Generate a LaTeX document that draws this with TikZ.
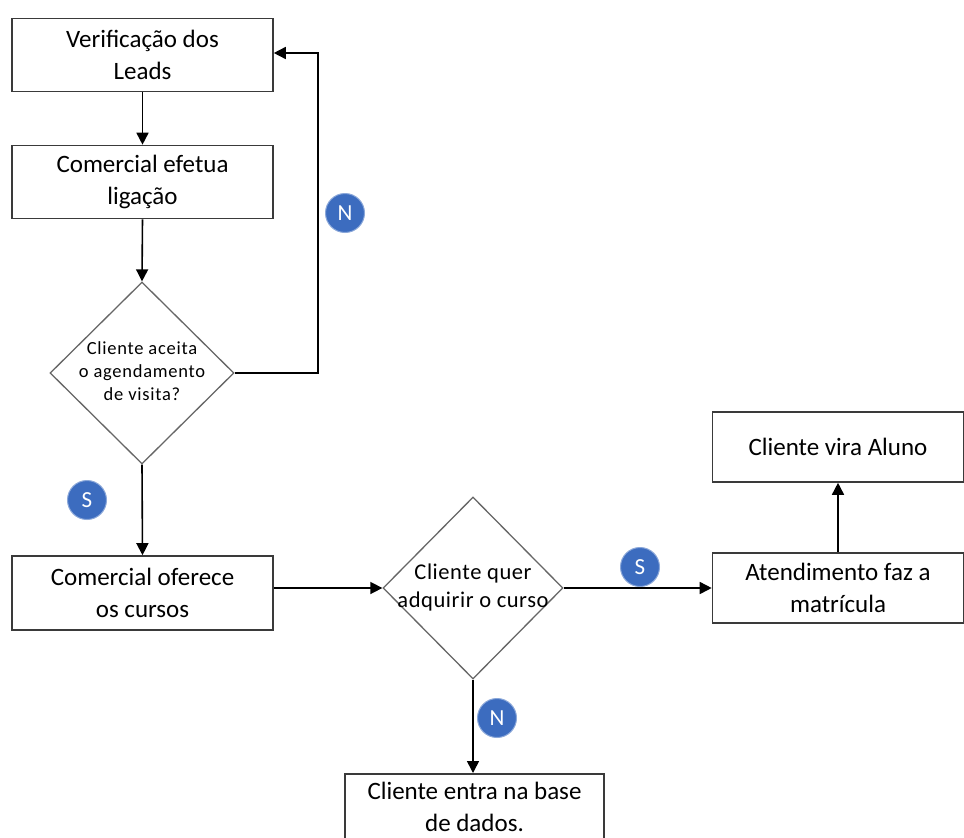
\documentclass[tikz,border=0pt]{standalone}
\usepackage{fontspec}
\setmainfont{Carlito}
\usetikzlibrary{shapes.geometric,arrows.meta}
\definecolor{badge}{HTML}{3C6CBF}
\definecolor{edge}{HTML}{3A3A3A}
\newcommand{\flatlines}[1]{\makebox[0pt]{\begin{tabular}{@{}c@{}}#1\end{tabular}}}
\tikzset{
  procbox/.style={draw=edge,line width=1.6pt,rectangle,minimum width=261pt,minimum height=73pt,align=center,font=\fontsize{25}{32}\selectfont,inner sep=0pt},
  decision/.style={draw=gray!80!black,line width=1.3pt,diamond,minimum width=184pt,minimum height=182pt,aspect=1,align=center,inner sep=0pt},
  flow/.style={draw=black,line width=1.6pt,-{Triangle[length=12pt,width=12pt]}},
  badgenode/.style={circle,fill=badge,draw=badge!60!white,line width=1pt,minimum size=39pt,inner sep=0pt,text=white,font=\fontsize{23}{23}\selectfont}
}
\begin{document}
\begin{tikzpicture}[x=1pt,y=-1pt]
\useasboundingbox (0,0) rectangle (964,838);
\clip (0,0) rectangle (964,838);
\fill[white] (0,0) rectangle (964,838);
\node[procbox] (leads) at (142.5,55) {Verificação dos\\Leads};
\node[procbox] (lig) at (142.5,182) {Comercial efetua\\ligação};
\node[decision,font=\fontsize{18.5}{23}\selectfont\addfontfeature{LetterSpace=4}] (d1) at (142,373) {\flatlines{Cliente aceita\\o agendamento\\de visita?}};
\node[procbox,minimum height=74pt] (ofer) at (142.5,593) {Comercial oferece\\os cursos};
\node[decision,minimum width=180pt,font=\fontsize{22.5}{28}\selectfont\addfontfeature{LetterSpace=2.5}] (d2) at (473,588) {\raisebox{5pt}{\flatlines{Cliente quer\\adquirir o curso}}};
\node[procbox,minimum width=251pt,minimum height=70pt] (mat) at (838,588) {Atendimento faz a\\matrícula};
\node[procbox,minimum width=251pt,minimum height=70pt] (aluno) at (838,447) {Cliente vira Aluno};
\node[procbox,minimum width=259pt,minimum height=67pt,anchor=north] (base) at (474.5,773) {Cliente entra na base\\de dados.};
\coordinate (c1) at (318,373);
\coordinate (c2) at (318,53);
\draw[flow] (leads.south) -- (lig.north);
\draw[flow] (lig.south) -- (d1.north);
\draw[flow] (d1.east) -- (c1) -- (c2) -- (leads.east |- c2);
\draw[flow] (d1.south) -- (ofer.north);
\draw[flow] (ofer.east |- d2.west) -- (d2.west);
\draw[flow] (d2.east) -- (mat.west);
\draw[flow] (mat.north) -- (aluno.south);
\draw[flow] (d2.south) -- (d2.south |- base.north);
\node[badgenode] (bn1) at (345,213) {N};
\node[badgenode] (bs1) at (87,500) {S};
\node[badgenode] (bs2) at (640,567) {S};
\node[badgenode] (bn2) at (497,718) {N};
\end{tikzpicture}
\end{document}
